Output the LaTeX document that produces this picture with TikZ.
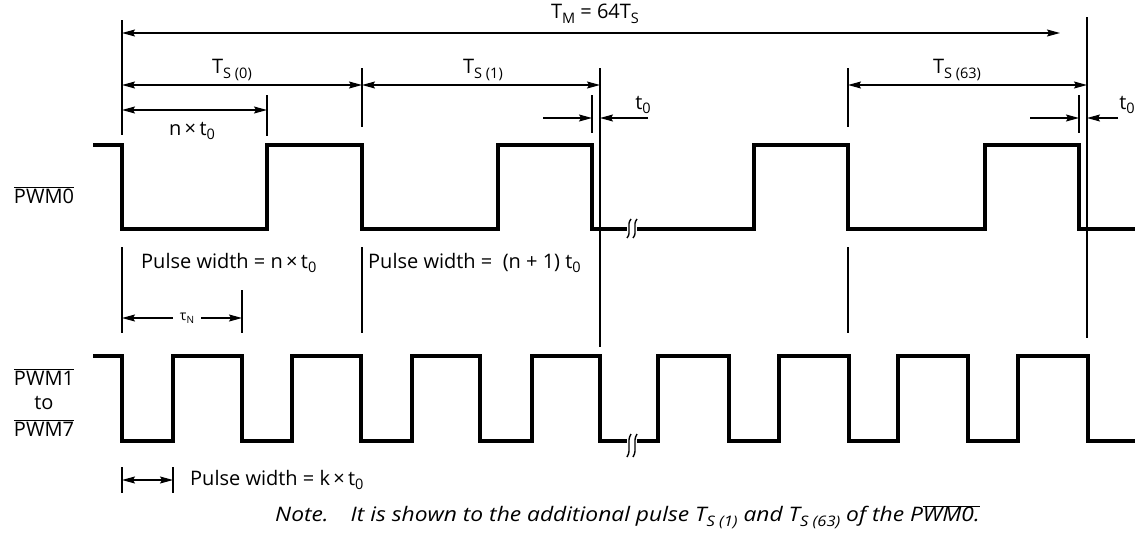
\documentclass[tikz,border=0pt]{standalone}
\usepackage{fontspec}
\setmainfont{Open Sans}
\newfontfamily\notefont[FakeStretch=1.14]{Open Sans}
\usetikzlibrary{arrows.meta}
\newcommand\ovl[1]{$\overline{\mbox{#1}}$}
\newcommand\sbs[1]{\raisebox{-0.45ex}{\fontsize{14.5}{14.5}\selectfont #1}}
\begin{document}
\begin{tikzpicture}[x=1pt,y=-1pt,
  wave/.style={line width=3.3pt, line join=miter, line cap=butt},
  thinl/.style={line width=1.1pt},
  brk/.style={line width=1.4pt},
  tipx/.tip={Stealth[length=13pt,width=7pt,inset=2pt]},
  dim/.style={line width=1.1pt, tipx-tipx},
  arr/.style={line width=1.1pt, -tipx},
  lbl/.style={font=\fontsize{20}{24}\selectfont, inner sep=0pt},
  sig/.style={font=\fontsize{20}{24}\selectfont, inner sep=0pt, align=center},
]
\useasboundingbox (0,0) rectangle (1138,541);

% ---------- waveforms ----------
\draw[wave] (93,145) -- (122,145) -- (122,229) -- (267,229) -- (267,145) -- (362,145) -- (362,229) -- (498,229) -- (498,145) -- (592,145) -- (592,229) -- (627,229);
\draw[wave] (637,229) -- (754,229) -- (754,145) -- (848,145) -- (848,229) -- (985,229) -- (985,145) -- (1079,145) -- (1079,229) -- (1135,229);

\draw[wave] (93,356) -- (122,356) -- (122,441) -- (173,441) -- (173,356) -- (242,356) -- (242,441) -- (292,441) -- (292,356) -- (361,356) -- (361,441) -- (412,441) -- (412,356) -- (480,356) -- (480,441) -- (532,441) -- (532,356) -- (600,356) -- (600,441) -- (627,441);
\draw[wave] (637,441) -- (658,441) -- (658,356) -- (729,356) -- (729,441) -- (779,441) -- (779,356) -- (849,356) -- (849,441) -- (898,441) -- (898,356) -- (968,356) -- (968,441) -- (1018,441) -- (1018,356) -- (1088,356) -- (1088,441) -- (1135,441);

% break marks
\foreach \x in {629,635}{
  \draw[brk] (\x+2,219) .. controls (\x-3,225) and (\x+3,232) .. (\x-2,238);
  \draw[brk] (\x+2,434) .. controls (\x-3,442) and (\x+3,449) .. (\x-2,457);
}

% ---------- reference lines ----------
\coordinate (a0t) at (122,20);   \coordinate (a0b) at (122,135);
\coordinate (a0u) at (122,247);  \coordinate (a0v) at (122,333);
\coordinate (n0t) at (267,95);   \coordinate (n0b) at (267,136);
\coordinate (b0t) at (362,68);   \coordinate (b0b) at (362,127);
\coordinate (b0u) at (362,247);  \coordinate (b0v) at (362,333);
\coordinate (c0t) at (592,95);   \coordinate (c0b) at (592,133);
\coordinate (d0t) at (600,68);   \coordinate (d0b) at (600,347);
\coordinate (e0t) at (848,68);   \coordinate (e0b) at (848,127);
\coordinate (e0u) at (848,247);  \coordinate (e0v) at (848,333);
\coordinate (f0t) at (1079,95);  \coordinate (f0b) at (1079,133);
\coordinate (g0t) at (1087,17);  \coordinate (g0b) at (1087,338);
\coordinate (h0t) at (242,290);  \coordinate (h0b) at (242,333);
\coordinate (k0t) at (122,467);  \coordinate (k0b) at (122,493);
\coordinate (k1t) at (173,467);  \coordinate (k1b) at (173,493);
\foreach \p in {a0,n0,b0,c0,d0,e0,f0,g0,h0,k0,k1}{\draw[thinl] (\p t) -- (\p b);}
\foreach \p in {a0,b0,e0}{\draw[thinl] (\p u) -- (\p v);}

% ---------- dimension arrows ----------
\coordinate (tmL) at (122,33);  \coordinate (tmR) at (1060,33);
\draw[dim] (tmL) -- (tmR);
\node[lbl] (tm) at (595,14) {T\sbs{M} = 64T\sbs{S}};

\coordinate (s0L) at (122,85); \coordinate (s0R) at (362,85);
\coordinate (s1L) at (362,85); \coordinate (s1R) at (600,85);
\coordinate (s63L) at (848,85); \coordinate (s63R) at (1087,85);
\draw[dim] (s0L) -- (s0R);
\draw[dim] (s1L) -- (s1R);
\draw[dim] (s63L) -- (s63R);
\node[lbl] (ts0) at (232,70) {T\sbs{S (0)}};
\node[lbl] (ts1) at (483,70) {T\sbs{S (1)}};
\node[lbl] (ts63) at (957,70) {T\sbs{S (63)}};

\coordinate (nL) at (122,110); \coordinate (nR) at (267,110);
\draw[dim] (nL) -- (nR);
\node[lbl] (nt) at (192,131) {n\,×\,t\sbs{0}};

% t0 arrows
\coordinate (p1) at (543,118); \coordinate (p1e) at (592,118);
\coordinate (p2) at (648,118); \coordinate (p2e) at (600,118);
\draw[arr] (p1) -- (p1e);
\draw[arr] (p2) -- (p2e);
\node[lbl] (t0a) at (643,105) {t\sbs{0}};
\coordinate (q1) at (1030,118); \coordinate (q1e) at (1079,118);
\coordinate (q2) at (1118,118); \coordinate (q2e) at (1087,118);
\draw[arr] (q1) -- (q1e);
\draw[arr] (q2) -- (q2e);
\node[lbl] (t0b) at (1127,105) {t\sbs{0}};

% pulse width labels
\node[lbl, anchor=west] (pw1) at (141,263) {Pulse width = n\,×\,t\sbs{0}};
\node[lbl, anchor=west] (pw2) at (368,263) {Pulse width = ~(n + 1) t\sbs{0}};

% tau_N
\node[inner sep=1pt, font=\fontsize{14}{14}\selectfont] (tn) at (187,318) {τ\raisebox{-0.4ex}{\fontsize{10}{10}\selectfont N}};
\coordinate (tnL) at (122,318); \coordinate (tnR) at (242,318);
\draw[arr] (tn.west) ++(-6,0) -- (tnL);
\draw[arr] (tn.east) ++(6,0) -- (tnR);

% k pulse
\coordinate (kL) at (122,480); \coordinate (kR) at (173,480);
\draw[dim] (kL) -- (kR);
\node[lbl, anchor=west] (pwk) at (190,480) {Pulse width = k\,×\,t\sbs{0}};

% signal names
\node[sig] (pwm0) at (44,195) {\ovl{PWM0}};
\node[sig] (pwm1) at (44,377) {\ovl{PWM1}};
\node[sig] (to) at (44,403) {to};
\node[sig] (pwm7) at (44,428) {\ovl{PWM7}};

% note
\node[lbl, anchor=west, font=\notefont\fontsize{20}{24}\selectfont\itshape] (note) at (275,517)
  {Note.\hspace{22pt}It is shown to the additional pulse T\sbs{S (1)} and T\sbs{S (63)} of the P\ovl{WM0.}};
\end{tikzpicture}
\end{document}
